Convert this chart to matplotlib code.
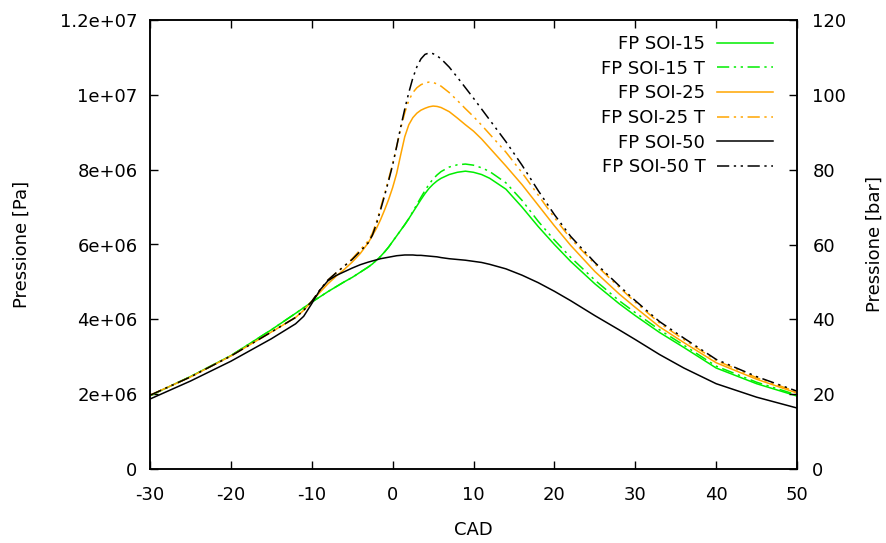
import numpy as np
import matplotlib
matplotlib.use("Agg")
import matplotlib.pyplot as plt

# Crank angle (deg) and in-cylinder pressure traces (values in MPa, converted to Pa for plotting)
cad = [-30, -25, -20, -15, -12, -11, -10, -9, -8, -7, -6, -5, -4, -3,
       -2.5, -2, -1.5, -1, -0.5, 0, 0.5, 1, 1.5, 2, 2.5, 3, 3.5, 4, 4.5, 5, 5.5, 6,
       7, 8, 9, 10, 11, 12, 14, 16, 18, 20, 22, 25, 28, 30, 33, 36, 40, 45, 50]

soi15 = [1.96, 2.47, 3.03, 3.72, 4.16, 4.31, 4.46, 4.60, 4.74, 4.87, 5.00, 5.12, 5.26, 5.40,
         5.48, 5.58, 5.68, 5.80, 5.93, 6.08, 6.23, 6.38, 6.53, 6.69, 6.86, 7.03, 7.20, 7.36, 7.50, 7.61, 7.70, 7.77,
         7.87, 7.93, 7.96, 7.93, 7.87, 7.77, 7.48, 7.00, 6.48, 6.00, 5.55, 4.95, 4.42, 4.10, 3.65, 3.25, 2.70, 2.28, 1.95]

soi15_t = [1.96, 2.47, 3.03, 3.72, 4.16, 4.31, 4.46, 4.60, 4.74, 4.87, 5.00, 5.12, 5.26, 5.40,
           5.48, 5.58, 5.68, 5.80, 5.93, 6.08, 6.23, 6.38, 6.53, 6.69, 6.88, 7.07, 7.26, 7.44, 7.61, 7.75, 7.86, 7.95,
           8.07, 8.13, 8.15, 8.12, 8.05, 7.95, 7.65, 7.18, 6.62, 6.12, 5.66, 5.05, 4.50, 4.18, 3.72, 3.31, 2.75, 2.32, 1.98]

soi25 = [1.97, 2.46, 3.02, 3.66, 4.05, 4.24, 4.48, 4.72, 4.95, 5.15, 5.33, 5.53, 5.76, 6.05,
         6.24, 6.43, 6.66, 6.92, 7.20, 7.52, 7.90, 8.40, 8.88, 9.20, 9.39, 9.51, 9.59, 9.64, 9.68, 9.70, 9.69, 9.66,
         9.55, 9.38, 9.20, 9.03, 8.82, 8.58, 8.10, 7.60, 7.05, 6.50, 5.98, 5.28, 4.68, 4.32, 3.80, 3.38, 2.84, 2.40, 2.03]

soi25_t = [1.97, 2.46, 3.02, 3.66, 4.05, 4.24, 4.48, 4.78, 5.05, 5.24, 5.42, 5.62, 5.86, 6.10,
           6.30, 6.60, 6.97, 7.35, 7.75, 8.15, 8.62, 9.10, 9.52, 9.85, 10.06, 10.19, 10.27, 10.32, 10.34, 10.33, 10.29, 10.23,
           10.06, 9.85, 9.63, 9.42, 9.19, 8.95, 8.47, 7.92, 7.32, 6.72, 6.16, 5.48, 4.86, 4.46, 3.90, 3.46, 2.90, 2.44, 2.06]

soi50 = [1.87, 2.35, 2.88, 3.48, 3.88, 4.08, 4.42, 4.78, 5.03, 5.17, 5.27, 5.37, 5.46, 5.53,
         5.56, 5.59, 5.62, 5.64, 5.66, 5.68, 5.70, 5.71, 5.72, 5.72, 5.72, 5.71, 5.71, 5.70, 5.69, 5.68, 5.67, 5.65,
         5.62, 5.60, 5.58, 5.55, 5.52, 5.47, 5.35, 5.18, 4.98, 4.75, 4.50, 4.10, 3.72, 3.46, 3.06, 2.70, 2.28, 1.92, 1.63]

soi50_t = [1.97, 2.46, 3.02, 3.66, 4.05, 4.24, 4.48, 4.78, 5.05, 5.24, 5.42, 5.60, 5.82, 6.05,
           6.25, 6.55, 6.92, 7.30, 7.70, 8.12, 8.62, 9.14, 9.62, 10.06, 10.45, 10.75, 10.96, 11.08, 11.12, 11.10, 11.04, 10.96,
           10.74, 10.47, 10.19, 9.91, 9.62, 9.33, 8.75, 8.12, 7.44, 6.80, 6.22, 5.52, 4.90, 4.50, 3.94, 3.50, 2.93, 2.47, 2.08]

labels = ["FP SOI-15", "FP SOI-15 T", "FP SOI-25", "FP SOI-25 T", "FP SOI-50", "FP SOI-50 T"]

x_ticks = [-30, -20, -10, 0, 10, 20, 30, 40, 50]
pa_ticks = [0, 2e6, 4e6, 6e6, 8e6, 1e7, 1.2e7]
pa_tick_labels = ["0", "2e+06", "4e+06", "6e+06", "8e+06", "1e+07", "1.2e+07"]
bar_ticks = [0, 20, 40, 60, 80, 100, 120]

plt.rcParams["font.family"] = ["DejaVu Sans"]
plt.rcParams["font.size"] = 13

fig = plt.figure(figsize=(8.86, 5.43), dpi=100)
ax = fig.add_axes([150 / 886, 74 / 543, 647 / 886, 449 / 543])

green = "#00ee00"
orange = "#ffa500"
dashdot = (0, (8, 3, 1.5, 3, 1.5, 3))

styles = [
    (soi15, green, "-"),
    (soi15_t, green, dashdot),
    (soi25, orange, "-"),
    (soi25_t, orange, dashdot),
    (soi50, "black", "-"),
    (soi50_t, "black", dashdot),
]

x = np.array(cad, dtype=float)
for (vals, color, ls), lab in zip(styles, labels):
    ax.plot(x, np.array(vals) * 1e6, color=color, linestyle=ls, lw=1.1, label=lab)

ax.set_xlim(-30, 50)
ax.set_ylim(0, 1.2e7)
ax.set_xticks(x_ticks)
ax.set_xticklabels([str(t) for t in x_ticks])
ax.set_yticks(pa_ticks)
ax.set_yticklabels(pa_tick_labels)
ax.tick_params(axis="x", direction="in", length=6, width=1, top=True, pad=12)
ax.tick_params(axis="y", direction="in", length=6, width=1, right=False, pad=9)

ax2 = ax.twinx()
ax2.set_ylim(0, 120)
ax2.set_yticks(bar_ticks)
ax2.tick_params(axis="y", direction="in", length=6, width=1, pad=11)

for a in (ax, ax2):
    for s in a.spines.values():
        s.set_linewidth(1.1)
        s.set_color("black")

ax.set_xlabel("CAD")
ax.xaxis.set_label_coords(0.5, -(530 - 469) / 449)
ax.xaxis.label.set_va("center")
ax.set_ylabel("Pressione [Pa]")
ax.yaxis.set_label_coords((31 - 150) / 647, 0.5)
ax2.set_ylabel("Pressione [bar]")
ax2.yaxis.set_label_coords((866 - 150) / 647, 0.5)

leg = ax.legend(loc="upper right", bbox_to_anchor=((773 - 150) / 647, (469 - 35) / 449),
                frameon=False, markerfirst=False, handlelength=3.1, handletextpad=0.65,
                labelspacing=0.37, borderpad=0, borderaxespad=0, fontsize=13)

fig.savefig("out.png", dpi=100)
